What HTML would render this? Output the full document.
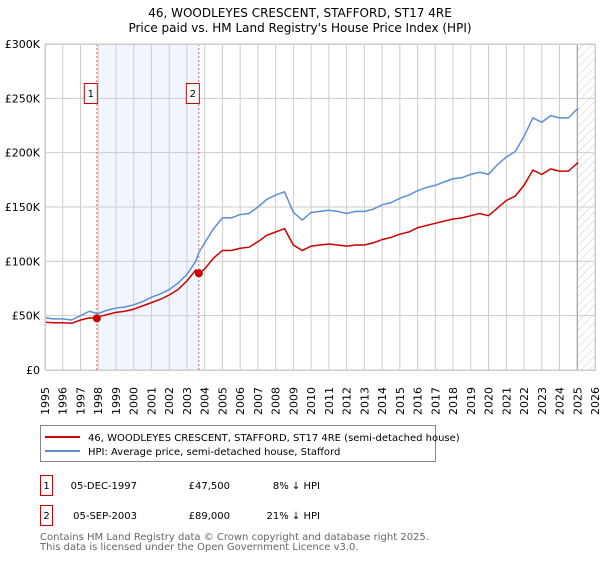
<!DOCTYPE html>
<html><head><meta charset="utf-8"><style>
body{margin:0;background:#fff;font-family:"DejaVu Sans","Liberation Sans",sans-serif;}
</style></head><body>
<svg width="600" height="560" xmlns="http://www.w3.org/2000/svg" font-family="DejaVu Sans, Liberation Sans, sans-serif">
<defs><pattern id="hatch" width="6" height="6" patternUnits="userSpaceOnUse" patternTransform="rotate(45)"><line x1="0" y1="0" x2="0" y2="6" stroke="#ccc" stroke-width="1"/></pattern></defs>
<text x="300" y="17" text-anchor="middle" font-size="12">46, WOODLEYES CRESCENT, STAFFORD, ST17 4RE</text>
<text x="300" y="32" text-anchor="middle" font-size="12">Price paid vs. HM Land Registry's House Price Index (HPI)</text>
<g id="plot"></g>
<g>
<rect x="40.5" y="425.5" width="395" height="36" fill="#fff" stroke="#888"/>
<line x1="45" y1="437" x2="80" y2="437" stroke="#cc0000" stroke-width="2"/>
<text x="88" y="441" font-size="10">46, WOODLEYES CRESCENT, STAFFORD, ST17 4RE (semi-detached house)</text>
<line x1="45" y1="451" x2="80" y2="451" stroke="#5b8fd4" stroke-width="2"/>
<text x="88" y="455" font-size="10">HPI: Average price, semi-detached house, Stafford</text>
</g>
<g font-size="10">
<rect x="40.5" y="475.5" width="12" height="20" fill="#fff" stroke="#c00"/><text x="46.5" y="489" text-anchor="middle">1</text>
<text x="137" y="489" text-anchor="end">05-DEC-1997</text><text x="230" y="489" text-anchor="end">£47,500</text><text x="320" y="489" text-anchor="end">8% ↓ HPI</text>
<rect x="40.5" y="505.5" width="12" height="20" fill="#fff" stroke="#c00"/><text x="46.5" y="519" text-anchor="middle">2</text>
<text x="137" y="519" text-anchor="end">05-SEP-2003</text><text x="230" y="519" text-anchor="end">£89,000</text><text x="320" y="519" text-anchor="end">21% ↓ HPI</text>
</g>
<text x="40" y="540" font-size="10" fill="#666">Contains HM Land Registry data © Crown copyright and database right 2025.</text>
<text x="40" y="550" font-size="10" fill="#666">This data is licensed under the Open Government Licence v3.0.</text>
</svg>
<script>
const hpiYears=[1995,1995.5,1996,1996.5,1997,1997.5,1997.92,1998,1998.5,1999,1999.5,2000,2000.5,2001,2001.5,2002,2002.5,2003,2003.5,2003.67,2004,2004.5,2005,2005.5,2006,2006.5,2007,2007.5,2008,2008.5,2009,2009.5,2010,2010.5,2011,2011.5,2012,2012.5,2013,2013.5,2014,2014.5,2015,2015.5,2016,2016.5,2017,2017.5,2018,2018.5,2019,2019.5,2020,2020.5,2021,2021.5,2022,2022.5,2023,2023.5,2024,2024.5,2025.05];
const hpiValues=[48,47,47,46,50,54,52,52,55,57,58,60,63,67,70,74,80,88,100,108,117,130,140,140,143,144,150,157,161,164,145,138,145,146,147,146,144,146,146,148,152,154,158,161,165,168,170,173,176,177,180,182,180,189,196,201,215,232,228,234,232,232,241];
const priceYears=hpiYears;
const priceValues=[44,43.5,43.5,43,46,48,47.5,49,51,53,54,56,59,62,65,69,74,82,92,89,93,103,110,110,112,113,118,124,127,130,115,110,114,115,116,115,114,115,115,117,120,122,125,127,131,133,135,137,139,140,142,144,142,149,156,160,170,184,180,185,183,183,191];
const sales=[{y:1997.92,v:47.5,label:"1"},{y:2003.67,v:89,label:"2"}];
const yTicks=[0,50,100,150,200,250,300];
const yTickLabels=["£0","£50K","£100K","£150K","£200K","£250K","£300K"];
const x0=45,x1=595,yb=370,yt=44;
const X=t=>x0+(t-1995)/(2026-1995)*(x1-x0);
const Y=v=>yb-v/300*(yb-yt);
const NS="http://www.w3.org/2000/svg";
const g=document.getElementById('plot');
function mk(tag,a){const e=document.createElementNS(NS,tag);for(const k in a)e.setAttribute(k,a[k]);g.appendChild(e);return e;}
let e;
e=mk('rect',{x:X(sales[0].y),y:yt,width:X(sales[1].y)-X(sales[0].y),height:yb-yt,fill:'#eef3fd',opacity:0.8});


e=mk('rect',{x:X(2025),y:yt,width:x1-X(2025),height:yb-yt,fill:'url(#hatch)'});


for(let yr=1995;yr<=2026;yr++){
 e=mk('line',{x1:X(yr),x2:X(yr),y1:yt,y2:yb,stroke:'#ccc','stroke-width':1});
 
 
 const tx=X(yr)+4;
 e=mk('text',{x:0,y:0,transform:`translate(${tx},415) rotate(-90)`,'font-size':11});
 e.textContent=yr;
 
 
}
yTicks.forEach((v,i)=>{
 e=mk('line',{x1:x0,x2:x1,y1:Y(v),y2:Y(v),stroke:'#ccc','stroke-width':1});
 
 
 e=mk('text',{x:40,y:Y(v)+4,'text-anchor':'end','font-size':11});
 e.textContent=yTickLabels[i];
 
 
});
e=mk('line',{x1:X(2025),x2:X(2025),y1:yt,y2:yb,stroke:'#999','stroke-width':1});


sales.forEach(s=>{
 e=mk('line',{x1:X(s.y),x2:X(s.y),y1:yt,y2:yb,stroke:'#e06060','stroke-width':1,'stroke-dasharray':'2,2'});
 
 
});
e=mk('polyline',{points:hpiYears.map((t,i)=>X(t)+','+Y(hpiValues[i])).join(' '),fill:'none',stroke:'#5b8fd4','stroke-width':1.5});


e=mk('polyline',{points:priceYears.map((t,i)=>X(t)+','+Y(priceValues[i])).join(' '),fill:'none',stroke:'#cc0000','stroke-width':1.5});


sales.forEach(s=>{
 e=mk('circle',{cx:X(s.y),cy:Y(s.v),r:4,fill:'#cc0000'});
 
 
 const bx=X(s.y)-12;
 e=mk('rect',{x:bx-0.5,y:83.5,width:13,height:20,fill:'#fff',stroke:'#c00'});
 
 
 e=mk('text',{x:bx+6,y:97,'text-anchor':'middle','font-size':10});
 e.textContent=s.label;
 
 
});
e=mk('rect',{x:x0+0.5,y:yt+0.5,width:x1-x0,height:yb-yt,fill:'none',stroke:'#ccc'});


</script>
</body></html>
